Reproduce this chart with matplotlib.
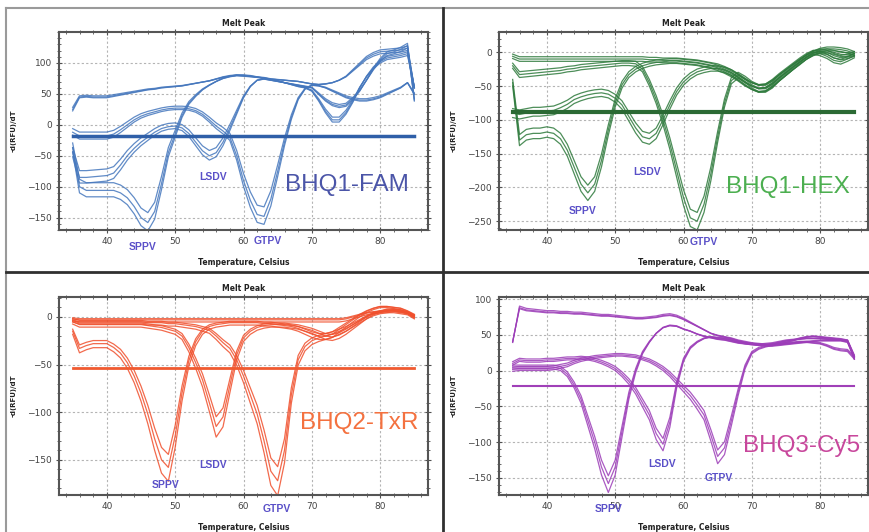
import numpy as np
import matplotlib
matplotlib.use("Agg")
import matplotlib.pyplot as plt
from matplotlib.lines import Line2D
from matplotlib.ticker import MultipleLocator

# temperature grid the curves were read at (deg C)
temps = np.arange(35, 86)

# ---- BHQ1-FAM panel ----
fam_neg = [25, 45, 46, 45, 45, 45, 47, 49, 51, 53, 55, 57, 58, 60, 61, 62, 63, 65, 67, 69,
           71, 74, 77, 79, 80, 79, 78, 77, 76, 74, 73, 72, 71, 70, 68, 66, 65, 66, 68, 72,
           78, 88, 98, 108, 114, 118, 119, 120, 121, 124, 60]
fam_sppv = [-37, -100, -106, -106, -106, -106, -106, -110, -118, -132, -150, -158, -140, -95, -45, -15, 15, 35, 47, 57,
            64, 70, 75, 78, 80, 80, 79, 77, 75, 73, 71, 68, 66, 64, 62, 60, 50, 40, 33, 30,
            32, 42, 55, 72, 90, 105, 115, 118, 122, 128, 40]
fam_lsdv = [-45, -85, -85, -84, -83, -82, -78, -65, -50, -38, -28, -20, -12, -6, -3, -2, -5, -14, -28, -42,
            -50, -45, -28, -5, 20, 45, 62, 72, 74, 72, 70, 68, 65, 62, 60, 55, 40, 22, 8, 8,
            20, 38, 60, 78, 92, 102, 108, 110, 112, 115, 60]
fam_gtpv = [-12, -18, -18, -18, -18, -18, -15, -8, 0, 8, 14, 18, 21, 24, 26, 27, 27, 26, 23, 17,
            8, -2, -10, -20, -50, -90, -122, -145, -148, -120, -75, -28, 12, 42, 58, 64, 63, 60, 55, 50,
            45, 42, 40, 40, 42, 45, 50, 55, 60, 68, 50]
fam_threshold = -18

# ---- BHQ1-HEX panel ----
hex_neg = [-6, -10, -10, -10, -10, -10, -10, -10, -10, -10, -10, -10, -10, -10, -10, -10, -10, -10, -10, -10,
           -11, -11, -12, -12, -12, -13, -14, -15, -17, -19, -21, -25, -30, -36, -43, -50, -54, -54, -48, -38,
           -30, -22, -15, -7, -1, 3, 5, 5, 4, 2, -2]
hex_sppv = [-45, -130, -122, -120, -120, -118, -120, -128, -145, -170, -195, -208, -195, -160, -115, -75, -48, -33, -25, -20,
            -17, -15, -14, -13, -13, -14, -15, -16, -18, -20, -23, -27, -32, -38, -45, -50, -53, -52, -45, -36,
            -28, -20, -12, -5, 0, -2, -6, -12, -14, -10, -5]
hex_lsdv = [-90, -92, -90, -88, -88, -87, -86, -82, -77, -70, -66, -63, -61, -60, -62, -68, -78, -95, -112, -125,
            -128, -120, -100, -78, -58, -44, -35, -29, -26, -24, -24, -26, -30, -37, -44, -50, -54, -53, -47, -38,
            -30, -22, -14, -7, -2, 1, 0, -5, -8, -6, -3]
hex_gtpv = [-20, -33, -32, -31, -30, -29, -28, -27, -25, -24, -22, -21, -20, -19, -18, -17, -16, -16, -17, -25,
            -45, -70, -100, -135, -175, -215, -245, -250, -225, -180, -125, -75, -42, -34, -40, -48, -53, -52, -46, -38,
            -30, -22, -14, -7, -1, 2, 2, 0, -3, -4, -2]
hex_threshold = -89

# ---- BHQ2-TxR panel ----
txr_neg = [-2, -3, -3, -3, -3, -3, -3, -3, -3, -3, -3, -3, -3, -3, -3, -3, -3, -3, -3, -3,
           -3, -3, -3, -3, -3, -3, -3, -3, -3, -3, -3, -3, -3, -3, -3, -3, -3, -3, -3, -3,
           -2, 0, 2, 4, 5, 6, 6, 6, 5, 4, 0]
txr_sppv = [-15, -33, -30, -28, -28, -28, -32, -38, -48, -62, -80, -102, -128, -150, -158, -125, -80, -46, -26, -15,
            -10, -8, -7, -6, -6, -6, -6, -6, -7, -7, -8, -9, -10, -12, -15, -18, -20, -20, -18, -15,
            -12, -8, -4, 0, 4, 6, 8, 8, 7, 5, 1]
txr_lsdv = [-5, -8, -8, -8, -8, -8, -8, -8, -8, -8, -8, -9, -10, -11, -13, -15, -20, -32, -48, -66,
            -90, -115, -105, -72, -40, -22, -15, -11, -9, -8, -8, -8, -9, -10, -12, -14, -17, -20, -21, -19,
            -15, -10, -5, 0, 3, 5, 6, 7, 6, 5, 1]
txr_gtpv = [-3, -5, -5, -5, -5, -5, -5, -5, -5, -5, -5, -6, -6, -6, -7, -7, -8, -9, -10, -12,
            -14, -20, -27, -33, -45, -62, -82, -102, -130, -162, -172, -140, -82, -45, -31, -25, -22, -20, -18, -13,
            -8, -3, 2, 6, 9, 11, 11, 10, 9, 6, 2]
txr_threshold = -54

# ---- BHQ3-Cy5 panel ----
cy5_neg = [40, 88, 85, 84, 83, 82, 82, 81, 81, 80, 80, 79, 78, 77, 77, 76, 75, 74, 73, 73,
           74, 75, 77, 78, 76, 72, 67, 62, 57, 52, 49, 47, 45, 42, 40, 38, 37, 36, 36, 37,
           38, 39, 40, 40, 41, 42, 42, 42, 42, 40, 18]
cy5_sppv = [5, 5, 5, 5, 5, 5, 5, 3, -5, -20, -40, -70, -100, -135, -158, -135, -85, -35, 0, 25,
            40, 52, 60, 63, 62, 58, 55, 51, 48, 46, 44, 43, 41, 39, 38, 37, 36, 37, 38, 40,
            42, 43, 44, 45, 45, 45, 44, 43, 43, 42, 18]
cy5_lsdv = [10, 15, 14, 14, 14, 15, 15, 16, 17, 17, 18, 17, 15, 12, 8, 3, -5, -15, -28, -45,
            -62, -88, -103, -72, -20, 15, 32, 40, 45, 47, 46, 45, 43, 40, 38, 37, 36, 35, 35, 36,
            37, 38, 39, 40, 39, 38, 35, 31, 29, 28, 18]
cy5_gtpv = [2, 3, 3, 3, 3, 3, 4, 6, 8, 12, 15, 17, 19, 20, 21, 22, 22, 21, 20, 17,
            14, 9, 3, -5, -15, -25, -35, -48, -62, -90, -120, -108, -70, -30, 5, 25, 31, 34, 36, 38,
            40, 42, 45, 47, 48, 47, 46, 45, 44, 42, 20]
cy5_threshold = -21

# spread between replicate wells (scale, offset) per panel
fam_reps = [(1.0, 0), (1.06, -4), (0.93, 5)]
hex_reps = [(1.0, 0), (1.04, -3), (0.96, 3)]
txr_reps = [(1.0, 0), (1.08, -2), (0.92, 1)]
cy5_reps = [(1.0, 0), (1.06, -3), (0.95, 3)]

panels = [
    dict(curves=[fam_neg, fam_sppv, fam_lsdv, fam_gtpv], reps=fam_reps, thr=fam_threshold,
         ylim=(-170, 150), yticks=[-150, -100, -50, 0, 50, 100], color="#4577bd", thr_color="#2f5fa8", thr_lw=2.5,
         name="BHQ1-FAM", name_color="#4b55a8", name_xy=(75.2, -98),
         labels={"SPPV": (45.2, -198), "LSDV": (55.5, -85), "GTPV": (63.6, -187)},
         rect=(59, 32, 428, 230)),
    dict(curves=[hex_neg, hex_sppv, hex_lsdv, hex_gtpv], reps=hex_reps, thr=hex_threshold,
         ylim=(-263, 30), yticks=[-250, -200, -150, -100, -50, 0], color="#2e7a3c", thr_color="#2b6a34", thr_lw=3,
         name="BHQ1-HEX", name_color="#4caf50", name_xy=(75.3, -199),
         labels={"SPPV": (45.2, -235), "LSDV": (54.6, -177), "GTPV": (63.0, -281)},
         rect=(499, 32, 868, 230)),
    dict(curves=[txr_neg, txr_sppv, txr_lsdv, txr_gtpv], reps=txr_reps, thr=txr_threshold,
         ylim=(-187, 21), yticks=[-150, -100, -50, 0], color="#f0502d", thr_color="#f05a30", thr_lw=2,
         name="BHQ2-TxR", name_color="#f4713f", name_xy=(77.0, -111),
         labels={"SPPV": (48.6, -176), "LSDV": (55.5, -155), "GTPV": (64.8, -202)},
         rect=(59, 297, 428, 495)),
    dict(curves=[cy5_neg, cy5_sppv, cy5_lsdv, cy5_gtpv], reps=cy5_reps, thr=cy5_threshold,
         ylim=(-174, 103), yticks=[-150, -100, -50, 0, 50, 100], color="#9c3db8", thr_color="#a040b8", thr_lw=1.5,
         name="BHQ3-Cy5", name_color="#c8479c", name_xy=(77.3, -106),
         labels={"SPPV": (49.0, -194), "LSDV": (56.9, -130), "GTPV": (65.2, -150)},
         rect=(499, 297, 868, 495)),
]

W, H = 869, 532
fig = plt.figure(figsize=(W / 100, H / 100), dpi=100)
fig.patch.set_facecolor("white")

# panel frames
def fig_line(x0, y0, x1, y1, color, lw):
    fig.add_artist(Line2D([x0 / W, x1 / W], [1 - y0 / H, 1 - y1 / H],
                          transform=fig.transFigure, color=color, lw=lw))

fig_line(6, 8, 6, 532, "#9a9a9a", 1.5)
fig_line(6, 8, 869, 8, "#9a9a9a", 1.5)
fig_line(443, 8, 443, 532, "#303030", 2)
fig_line(6, 272, 869, 272, "#303030", 2)

for p in panels:
    l, t, r, b = p["rect"]
    ax = fig.add_axes([l / W, 1 - b / H, (r - l) / W, (b - t) / H])
    for c in p["curves"]:
        c = np.array(c, dtype=float)
        for sc, off in p["reps"]:
            ax.plot(temps, c * sc + off, color=p["color"], lw=0.9, alpha=0.85)
    ax.plot([35, 85], [p["thr"], p["thr"]], color=p["thr_color"], lw=p["thr_lw"])

    ax.set_xlim(33, 87)
    ax.set_ylim(*p["ylim"])
    ax.set_xticks([40, 50, 60, 70, 80])
    ax.set_yticks(p["yticks"])
    ax.xaxis.set_minor_locator(MultipleLocator(2))
    ax.yaxis.set_minor_locator(MultipleLocator(10))
    ax.grid(True, which="major", color="#b4b4b4", lw=0.8, linestyle=(0, (2, 2)))
    ax.tick_params(which="both", direction="inout", top=True, right=True,
                   color="#505050", labelsize=6.5, labelcolor="#444444", pad=3)
    ax.tick_params(which="major", length=4)
    ax.tick_params(which="minor", length=3)
    for s in ax.spines.values():
        s.set_color("#555555")
        s.set_linewidth(1.5)

    ax.set_title("Melt Peak", fontsize=5.5, fontweight="bold", pad=4, color="#222222")
    ax.set_xlabel("Temperature, Celsius", fontsize=5.5, fontweight="bold", color="#222222")
    ax.xaxis.set_label_coords(0.5, -0.14)
    ax.set_ylabel("-d(RFU)/dT", fontsize=5, fontweight="bold", color="#222222")
    ax.yaxis.set_label_coords(-0.115, 0.5)

    ax.text(p["name_xy"][0], p["name_xy"][1], p["name"], color=p["name_color"],
            fontsize=17.5, family="Liberation Sans", ha="center", va="center")
    for lab, (x, y) in p["labels"].items():
        ax.text(x, y, lab, color="#5a50c8", fontsize=7.5, fontweight="bold",
                family="Liberation Sans", ha="center", va="center", clip_on=False)

fig.savefig("out.png", dpi=100)
